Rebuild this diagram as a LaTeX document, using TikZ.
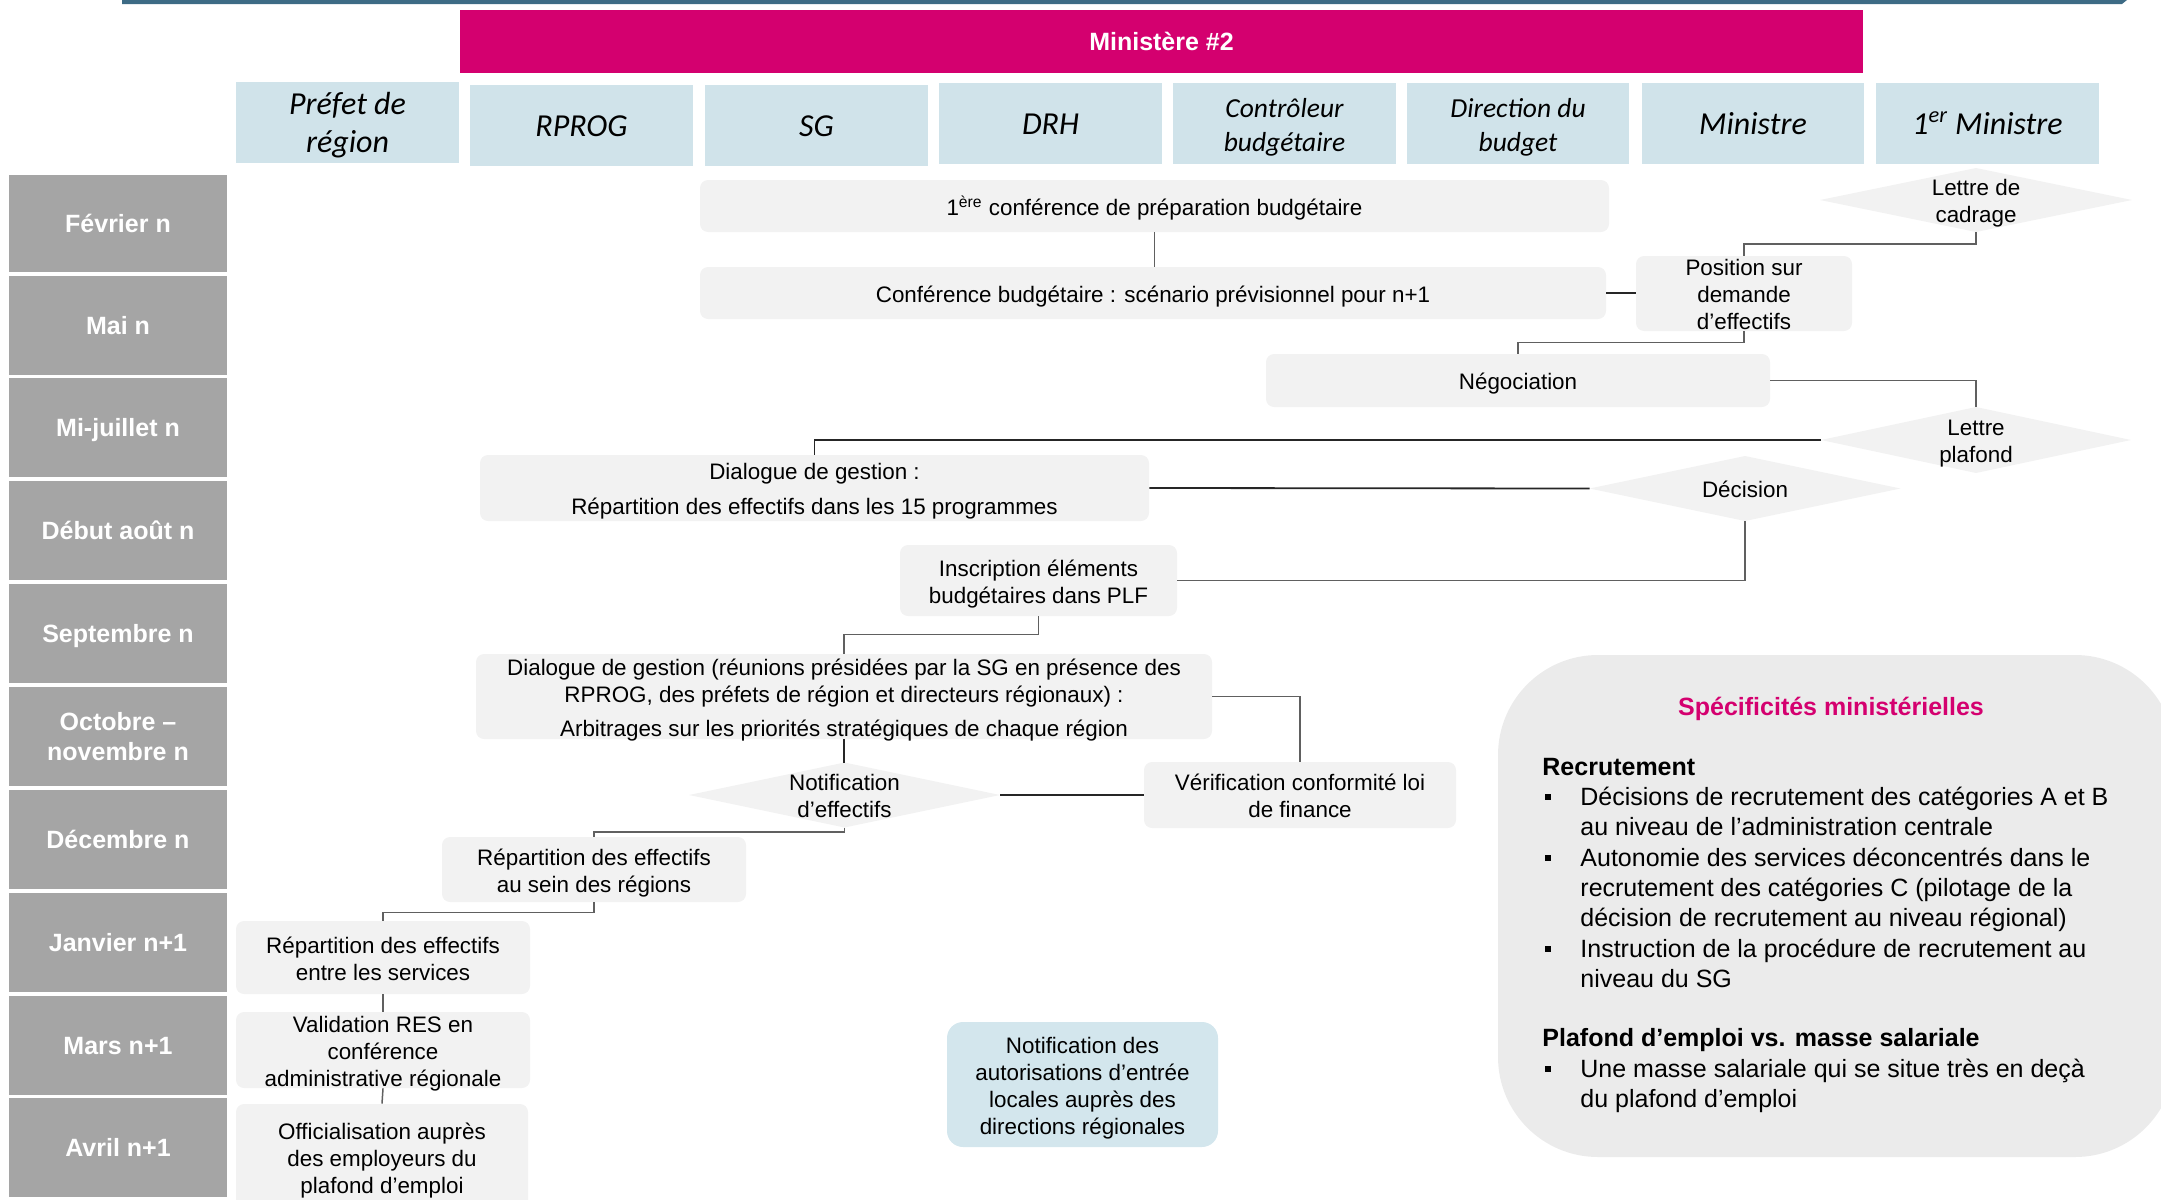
\documentclass[tikz,border=0pt]{standalone}
\usepackage{fontspec}
\setmainfont{Liberation Sans}
\newfontfamily\hdrfont{Carlito}
\usetikzlibrary{shapes.geometric}

\definecolor{mgt}{HTML}{D4006F}
\definecolor{hdrblue}{HTML}{D0E3EA}
\definecolor{monthgray}{HTML}{A5A5A5}
\definecolor{boxgray}{HTML}{F2F2F2}
\definecolor{panelgray}{HTML}{EBEBEB}
\definecolor{notifblue}{HTML}{D3E6ED}
\definecolor{topline}{HTML}{3D6B85}
\definecolor{linkgray}{HTML}{606060}

% struts that fix the first-line ascent and last-line depth of a text block,
% so every block sits at the same height in its box whatever its letters
\newcommand\ptop{\rule{0pt}{12pt}}
\newcommand\pbot{\rule[-3pt]{0pt}{3pt}}
\newcommand\mtop{\rule{0pt}{12.5pt}}
\newcommand\mbot{\rule[-3.5pt]{0pt}{3.5pt}}
\newcommand\htop{\rule{0pt}{15.2pt}}
\newcommand\hbot{\rule[-4pt]{0pt}{4pt}}

\tikzset{
  sz/.style 2 args={minimum width={#1*0.5pt}, minimum height={#2*0.5pt}},
  hdr/.style={fill=hdrblue, inner sep=0pt, align=center,
    font=\hdrfont\itshape\fontsize{16}{19}\selectfont},
  hdrsmall/.style={hdr, font=\hdrfont\itshape\fontsize{13.75}{17}\selectfont},
  month/.style={fill=monthgray, inner sep=0pt, text=white, align=center,
    font=\bfseries\fontsize{12.5}{15}\selectfont},
  proc/.style={fill=boxgray, rounded corners=4pt, inner sep=0pt, align=center,
    font=\fontsize{11.2}{13.5}\selectfont},
  dia/.style={diamond, fill=boxgray, inner sep=0pt, outer sep=0pt},
  dlabel/.style={align=center, inner sep=0pt, font=\fontsize{11.2}{13.5}\selectfont},
  % text laid over a box of fixed size, free to run past its edges
  overtext/.style={label={[dlabel]center:{\ptop #1\pbot}}},
  link/.style={draw=linkgray, line width=0.75pt},
  linkdark/.style={draw=black!85, line width=0.9pt},
  ptxt/.style={anchor=base west, inner sep=0pt, font=\fontsize{12.5}{15}\selectfont},
  pbold/.style={ptxt, font=\bfseries\fontsize{12.5}{15}\selectfont},
  bullet/.style={fill=black, inner sep=0pt, sz={6}{6}},
}

\begin{document}
\begin{tikzpicture}[x=0.5pt, y=-0.5pt]
\useasboundingbox (0,0) rectangle (2161,1199);
\clip (0,0) rectangle (2161,1199);

% rule across the top
\fill[topline] (122,0) -- (2127,0) -- (2122,4) -- (122,4) -- cycle;

% ministry banner
\node[fill=mgt, inner sep=0pt, sz={1403}{63}, text=white,
  font=\bfseries\fontsize{12.5}{15}\selectfont] (banner) at (1161.5,41.5) {\mtop Ministère \#2\mbot};

% actors
\node[hdr, sz={223}{81}] (hPref) at (347.5,122.5) {\htop Préfet de\\région\hbot};
\node[hdr, sz={223}{81}] (hRprog) at (581.5,125.5) {\htop RPROG\hbot};
\node[hdr, sz={223}{81}] (hSG) at (816.5,125.5) {\htop SG\hbot};
\node[hdr, sz={223}{81}] (hDRH) at (1050.5,123.5) {\htop DRH\hbot};
\node[hdrsmall, sz={223}{81}] (hCB) at (1284.5,123.5) {\htop Contrôleur\\budgétaire\hbot};
\node[hdrsmall, sz={222}{81}] (hDB) at (1518,123.5) {\htop Direction du\\budget\hbot};
\node[hdr, sz={222}{81}] (hMin) at (1753,123.5) {\htop Ministre\hbot};
\node[hdr, sz={223}{81}] (h1M) at (1987.5,123.5) {\htop 1\textsuperscript{er} Ministre\hbot};

% months
\node[month, sz={218}{97}] (mFev) at (118,223.5) {\mtop Février n\mbot};
\node[month, sz={218}{99}] (mMai) at (118,325) {\mtop Mai n\mbot};
\node[month, sz={218}{99}] (mJui) at (118,427.5) {\mtop Mi-juillet n\mbot};
\node[month, sz={218}{99}] (mAou) at (118,530) {\mtop Début août n\mbot};
\node[month, sz={218}{99}] (mSep) at (118,633) {\mtop Septembre n\mbot};
\node[month, sz={218}{99}] (mOct) at (118,736) {\mtop Octobre –\\novembre n\mbot};
\node[month, sz={218}{99}] (mDec) at (118,839) {\mtop Décembre n\mbot};
\node[month, sz={218}{99}] (mJan) at (118,942) {\mtop Janvier n+1\mbot};
\node[month, sz={218}{99}] (mMar) at (118,1045) {\mtop Mars n+1\mbot};
\node[month, sz={218}{99}] (mAvr) at (118,1147.5) {\mtop Avril n+1\mbot};

% process steps
\node[proc, sz={909}{52}] (b1) at (1154.5,206) {\ptop 1\textsuperscript{ère} conférence de préparation budgétaire\pbot};
\node[proc, sz={906}{52}] (b2) at (1153,293) {\ptop Conférence budgétaire : scénario prévisionnel pour n+1\pbot};
\node[proc, sz={216}{75}, overtext={Position sur\\demande\\d’effectifs}] (bPos) at (1744,293.5) {};
\node[proc, sz={504}{53}] (bNeg) at (1518,380.5) {\ptop Négociation\pbot};
\node[proc, sz={669}{66}] (bDial1) at (814.5,488) {\ptop Dialogue de gestion :\\[4pt]Répartition des effectifs dans les 15 programmes\pbot};
\node[proc, sz={277}{71}] (bInsc) at (1038.5,580.5) {\ptop Inscription éléments\\budgétaires dans PLF\pbot};
\node[proc, sz={736}{85}, overtext={Dialogue de gestion (réunions présidées par la SG en présence des\\RPROG, des préfets de région et directeurs régionaux) :\\[3.5pt]Arbitrages sur les priorités stratégiques de chaque région}] (bDial2) at (844,696.5) {};
\node[proc, sz={312}{66}] (bVerif) at (1300,795) {\ptop Vérification conformité loi\\de finance\pbot};
\node[proc, sz={304}{65}] (bRepR) at (594,869.5) {\ptop Répartition des effectifs\\au sein des régions\pbot};
\node[proc, sz={294}{73}] (bRepS) at (383,957.5) {\ptop Répartition des effectifs\\entre les services\pbot};
\node[proc, sz={294}{76}, overtext={Validation RES en\\conférence\\administrative régionale}] (bValid) at (383,1050) {};
\node[proc, sz={292}{106}] (bOffic) at (382,1157) {\ptop Officialisation auprès\\des employeurs du\\plafond d’emploi\pbot};
\node[proc, fill=notifblue, rounded corners=8pt, sz={271}{125}] (bAut) at (1082.5,1084.5)
  {\ptop Notification des\\autorisations d’entrée\\locales auprès des\\directions régionales\pbot};

% decisions
\node[dia, sz={312}{64}, overtext={Lettre de\\cadrage}] (dCad) at (1976,200) {};
\node[dia, sz={310}{66}, overtext={Lettre\\plafond}] (dPlaf) at (1976,440) {};
\node[dia, sz={311}{65}, overtext={Décision}] (dDec) at (1745,488.5) {};
\node[dia, sz={311}{65}, overtext={Notification\\d’effectifs}] (dNotif) at (844.5,795) {};

% connectors
\draw[link] (b1.south) -- (b1.south |- b2.north);
\draw[linkdark] (bPos.west |- b2.east) -- (b2.east);
\draw[link] (dCad.south) -- ++(0,12) -| (bPos.north);
\draw[link] (bPos.south) -- ++(0,11) -| (bNeg.north);
\draw[link] (bNeg.east) -| (dPlaf.north);
\draw[linkdark] (dPlaf.west) -| (bDial1.north);
\draw[linkdark] (bDial1.east) -- (dDec.west);
\draw[link] (dDec.south) |- (bInsc.east);
\draw[link] (bInsc.south) -- ++(0,18) -| (bDial2.north);
\draw[linkdark, line width=0.6pt] (bDial2.south) -- (bDial2.south |- dNotif.north);
\draw[link] (bDial2.east) -| (bVerif.north);
\draw[linkdark] (dNotif.east) -- (bVerif.west);
\draw[link] (dNotif.south) -- ++(0,4.5) -| (bRepR.north);
\draw[link] (bRepR.south) -- ++(0,10) -| (bRepS.north);
\draw[link] (bRepS.south) -- (bValid.north);
\draw[link] (bValid.south) -- (bOffic.north);

% ministry specifics panel
\node[fill=panelgray, rounded corners=50pt, sz={677}{502}] (panel) at (1836.5,906) {};
\node[anchor=base, inner sep=0pt, text=mgt, font=\bfseries\fontsize{12.5}{15}\selectfont]
  (pTitle) at (1831,715) {Spécificités ministérielles};
\node[pbold] (pRec) at (1542,775) {Recrutement};
\node[bullet] (u1) at (1548,797) {};
\node[ptxt] (p1) at (1580,805) {Décisions de recrutement des catégories A et B};
\node[ptxt] (p2) at (1580,835) {au niveau de l’administration centrale};
\node[bullet] (u2) at (1548,858) {};
\node[ptxt] (p3) at (1580,866) {Autonomie des services déconcentrés dans le};
\node[ptxt] (p4) at (1580,896) {recrutement des catégories C (pilotage de la};
\node[ptxt] (p5) at (1580,926) {décision de recrutement au niveau régional)};
\node[bullet] (u3) at (1548,949) {};
\node[ptxt] (p6) at (1580,957) {Instruction de la procédure de recrutement au};
\node[ptxt] (p7) at (1580,987) {niveau du SG};
\node[pbold] (pPla) at (1542,1046) {Plafond d’emploi vs. masse salariale};
\node[bullet] (u4) at (1548,1069) {};
\node[ptxt] (p8) at (1580,1077) {Une masse salariale qui se situe très en deçà};
\node[ptxt] (p9) at (1580,1107) {du plafond d’emploi};
\end{tikzpicture}
\end{document}
